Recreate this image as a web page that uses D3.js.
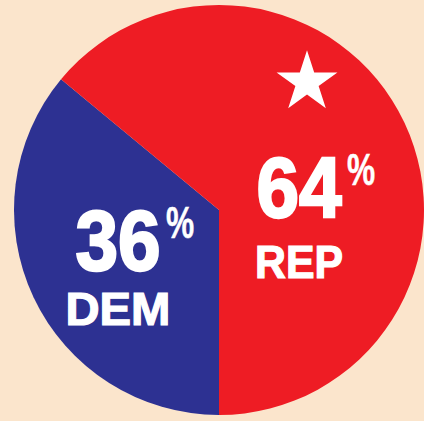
<!DOCTYPE html>
<html>
<head>
<meta charset="utf-8">
<script src="https://cdn.jsdelivr.net/npm/d3@7"></script>
<style>
  html, body { margin: 0; padding: 0; background: #fbe5cc; }
  svg { display: block; }
  text { font-family: "Liberation Sans", Arial, sans-serif; font-weight: bold; fill: #fff; stroke: #fff; }
</style>
</head>
<body>
<div id="chart"></div>
<script>
// slice data
const parties = ["DEM", "REP"];
const shares = [36, 64];
const colors = ["#2d3192", "#ee1c24"];

const width = 424, height = 421;
const cx = 219, cy = 210, radius = 205;

let svg = d3.select("#chart").append("svg")
    .attr("width", width)
    .attr("height", height);

let g = svg.append("g").attr("transform", `translate(${cx},${cy})`);

// DEM starts at 6 o'clock and runs clockwise
let pie = d3.pie()
    .sort(null)
    .startAngle(Math.PI)
    .endAngle(Math.PI * 3)
    .value(d => d.value);

let data = parties.map((p, i) => ({ party: p, value: shares[i], color: colors[i] }));
let arcs = pie(data);

let arc = d3.arc().innerRadius(0).outerRadius(radius);
let labelArc = d3.arc().innerRadius(105).outerRadius(105);

g.selectAll("path.slice")
    .data(arcs)
    .enter()
    .append("path")
    .attr("class", "slice")
    .attr("d", arc)
    .attr("fill", d => d.data.color)
    .style("stroke", "none");

// nudges from the centroid, per party
let nudge = {
    DEM: { dx: -6, num: 15, name: 70, pctX: 48, nameLen: 105 },
    REP: { dx: -15, num: 52, name: 113, pctX: 48, nameLen: 88 }
};

let labels = g.selectAll("g.label")
    .data(arcs)
    .enter()
    .append("g")
    .attr("class", "label")
    .attr("transform", d => {
        let c = labelArc.centroid(d);
        let n = nudge[d.data.party];
        return `translate(${c[0] + n.dx},${c[1]})`;
    });

// big numbers, squeezed a little sideways
labels.append("text")
    .attr("text-anchor", "middle")
    .attr("transform", d => `translate(0,${nudge[d.data.party].num}) scale(0.89,1)`)
    .attr("font-size", 86)
    .style("stroke-width", 2.5)
    .text(d => d.data.value);

labels.append("text")
    .attr("transform", d => `translate(${nudge[d.data.party].pctX},${nudge[d.data.party].num - 32}) scale(0.72,1)`)
    .attr("font-size", 44)
    .style("stroke-width", 0.5)
    .text("%");

labels.append("text")
    .attr("text-anchor", "middle")
    .attr("y", d => nudge[d.data.party].name)
    .attr("font-size", 46)
    .attr("textLength", d => nudge[d.data.party].nameLen)
    .attr("lengthAdjust", "spacingAndGlyphs")
    .style("stroke-width", 1.2)
    .text(d => d.data.party);

// star above the REP label
let rep = arcs.find(d => d.data.party === "REP");
let rc = labelArc.centroid(rep);
g.append("path")
    .attr("d", d3.symbol().type(d3.symbolStar).size(1150))
    .attr("transform", `translate(${rc[0] - 7},${rc[1] - 83})`)
    .attr("fill", "#fff");
</script>
</body>
</html>
